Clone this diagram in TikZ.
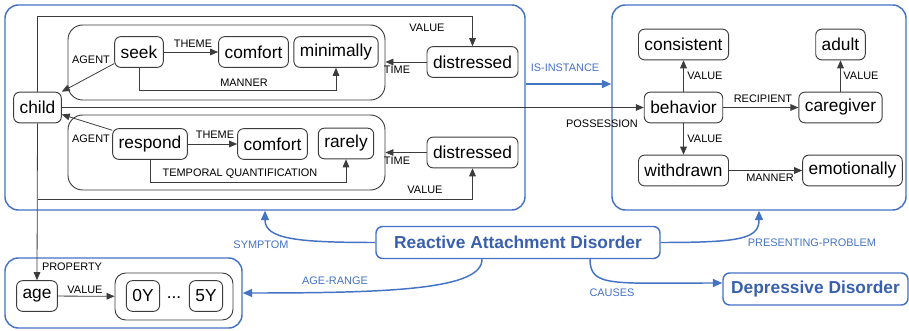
\documentclass[tikz,border=0pt]{standalone}
\usepackage{fontspec}
\setmainfont{Liberation Sans}
\usetikzlibrary{arrows.meta,calc}
\definecolor{radblue}{RGB}{68,114,196}
\definecolor{radtext}{RGB}{56,96,172}
\definecolor{edgegray}{RGB}{60,60,60}
\tikzset{
  concept/.style={draw=edgegray, rounded corners=4.5pt, line width=0.7pt, minimum height=23pt,
    inner xsep=4.5pt, inner ysep=0pt, font=\fontsize{13}{15}\selectfont},
  inset/.style={draw=edgegray, rounded corners=11pt, line width=0.7pt, inner sep=0pt},
  panel/.style={draw=radblue, rounded corners=10pt, line width=1.1pt, inner sep=0pt},
  disorder/.style={draw=radblue, rounded corners=5pt, line width=1.1pt, minimum height=24pt,
    text=radtext, font=\fontsize{13}{15}\selectfont\bfseries},
  rel/.style={font=\fontsize{8.2}{9}\selectfont, inner sep=1pt},
  brel/.style={rel, text=radblue},
  arr/.style={draw=edgegray, line width=0.6pt, -{Triangle[length=6pt,width=5pt]}},
  barr/.style={draw=radblue, line width=1.1pt, -{Triangle[length=7pt,width=6pt]}},
}
\begin{document}
\begin{tikzpicture}[x=0.75pt, y=-0.75pt]
\useasboundingbox (0,0) rectangle (909,331);

% outer panels
\node[panel, minimum width=390pt, minimum height=153.75pt] (symptoms) at (265,107.5) {};
\node[panel, minimum width=220.5pt, minimum height=153.75pt] (problem) at (759,107.5) {};
\node[panel, minimum width=177.75pt, minimum height=52.5pt] (agerange) at (123.5,293) {};

% event groups
\node[inset, minimum width=237.75pt, minimum height=56.25pt] (seekgroup) at (226.5,62.5) {};
\node[inset, minimum width=237.75pt, minimum height=56.25pt] (respondgroup) at (226.5,152.5) {};
\node[inset, rounded corners=8pt, minimum width=88.5pt, minimum height=35.25pt] (years) at (174,296.5) {};

% concepts
\node[concept] (child) at (37.5,107.5) {child};
\node[concept] (seek) at (139,52) {seek};
\node[concept] (comfortA) at (253.5,52) {comfort};
\node[concept] (minimally) at (336,52) {minimally};
\node[concept] (distA) at (472.5,62) {distressed};
\node[concept] (respond) at (150,144) {respond};
\node[concept] (comfortB) at (272.5,144) {comfort};
\node[concept] (rarely) at (346,143.5) {rarely};
\node[concept] (distB) at (472.5,152.5) {distressed};

\node[concept] (consistent) at (683.5,44.5) {consistent};
\node[concept] (adult) at (840.5,44.5) {adult};
\node[concept] (behavior) at (683.5,107.5) {behavior};
\node[concept] (caregiver) at (840.5,107.5) {caregiver};
\node[concept] (withdrawn) at (683.5,170.5) {withdrawn};
\node[concept] (emotionally) at (852.5,170.5) {emotionally};

\node[concept] (age) at (37,296) {age};
\node[concept] (yzero) at (143,296) {0Y};
\node[font=\fontsize{13}{15}\selectfont] (ydots) at (174,298) {...};
\node[concept] (yfive) at (206,296) {5Y};

\node[disorder, minimum width=213pt] (rad) at (518,242.5) {Reactive Attachment Disorder};
\node[disorder, minimum width=138.75pt] (dep) at (815.5,289) {Depressive Disorder};

% seek event
\draw[arr] (seek) -- (comfortA);
\draw[arr] (seek.205) -- (child.north east);
\draw[arr] (seek.south) -- ++(0,23) -| (minimally.south);
\draw[arr] (distA.west) -- (seekgroup.east |- distA.west);
\draw[arr] (child.north) -- ++(0,-75) -| (distA.north);

% respond event
\draw[arr] (respond) -- (comfortB);
\draw[arr] (respond.160) -- (child.-16);
\draw[arr] (respond.south) -- ++(0,23) -| (rarely.south);
\draw[arr] (distB.west) -- (respondgroup.east |- distB.west);
\coordinate (fork) at ($(child.south)+(0,76)$);
\draw[arr] (fork) -| (distB.south);

% child links
\draw[arr] (child.south) -- (age.north);
\draw[arr] (child.east) -- (behavior.west);
\draw[arr] (age) -- (years);

% behavior
\draw[arr] (behavior) -- (consistent);
\draw[arr] (behavior) -- (caregiver);
\draw[arr] (caregiver) -- (adult);
\draw[arr] (behavior) -- (withdrawn);
\draw[arr] (withdrawn) -- (emotionally);

% disorder relations
\draw[barr] ([yshift=17.6pt]symptoms.east) -- ([yshift=17.6pt]problem.west);
\draw[barr] (rad.west) .. controls +(-80,0) and +(0,28) .. (symptoms.south);
\draw[barr] (rad.east) .. controls +(80,0) and +(0,28) .. (problem.south);
\draw[barr] ([xshift=-27pt]rad.south) .. controls +(0,30) and +(150,0) .. (agerange.east);
\draw[barr] ([xshift=54pt]rad.south) .. controls +(0,28) and +(-110,0) .. ([yshift=4.5pt]dep.west);

% relation labels
\node[rel] (lagentA) at (91,60) {AGENT};
\node[rel] (lthemeA) at (193,44) {THEME};
\node[rel] (lmannerA) at (244,83) {MANNER};
\node[rel] (ltimeA) at (397,70) {TIME};
\node[rel] (lvalueA) at (427,28) {VALUE};
\node[rel] (lagentB) at (91,139) {AGENT};
\node[rel] (lthemeB) at (215,135) {THEME};
\node[rel] (ltemporal) at (240,174) {TEMPORAL QUANTIFICATION};
\node[rel] (ltimeB) at (397,161) {TIME};
\node[rel] (lvalueB) at (425,190) {VALUE};
\node[rel] (lpossession) at (602,124) {POSSESSION};
\node[rel] (lvaluecons) at (705,76) {VALUE};
\node[rel] (lvalueadult) at (861,76) {VALUE};
\node[rel] (lrecipient) at (763,99) {RECIPIENT};
\node[rel] (lvaluewith) at (705,139) {VALUE};
\node[rel] (lmannerC) at (770,178) {MANNER};
\node[rel] (lproperty) at (72,267) {PROPERTY};
\node[rel] (lvalueage) at (85,290) {VALUE};
\node[brel] (linstance) at (565,68) {IS-INSTANCE};
\node[brel] (lsymptom) at (261,245) {SYMPTOM};
\node[brel] (lagerange) at (335,281) {AGE-RANGE};
\node[brel] (lpresenting) at (812,243) {PRESENTING-PROBLEM};
\node[brel] (lcauses) at (612,293) {CAUSES};
\end{tikzpicture}
\end{document}
